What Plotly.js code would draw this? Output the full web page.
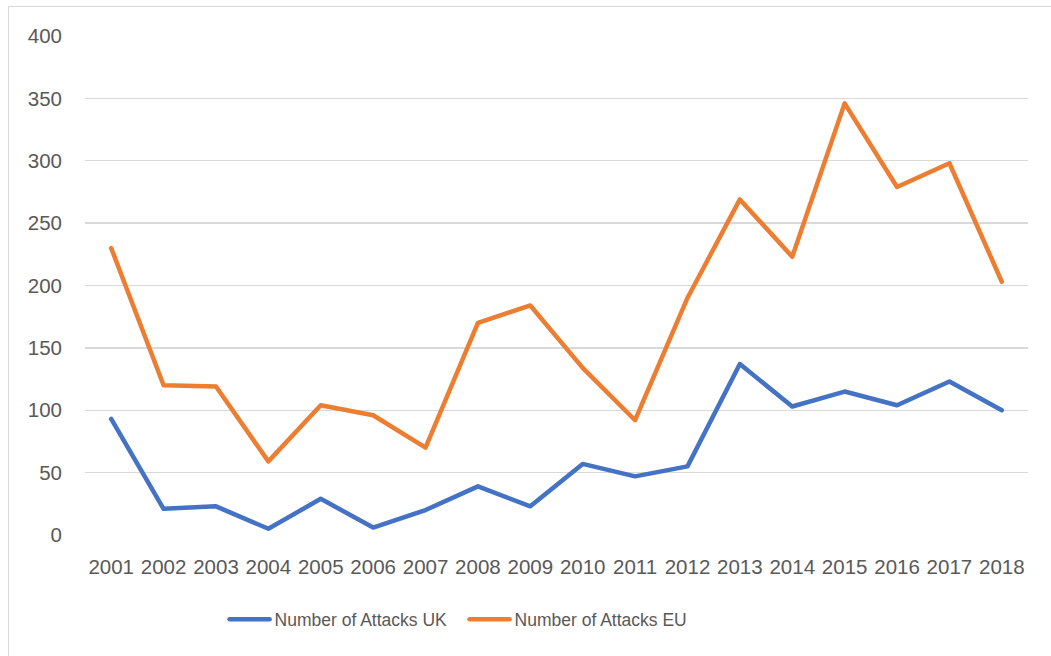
<!DOCTYPE html>
<html>
<head>
<meta charset="utf-8">
<script src="https://cdn.plot.ly/plotly-3.0.1.min.js"></script>
<style>
  html, body { margin: 0; padding: 0; background: #fff; overflow: hidden; }
  #wrap { position: relative; width: 1051px; height: 656px; }
  #chart { position: absolute; left: 0; top: 0; width: 1051px; height: 656px; }
  #frame { position: absolute; left: 8px; top: 6px; width: 1100px; height: 700px;
           border: 1px solid #d9d9d9; pointer-events: none; box-sizing: border-box; }
  #chart path.js-line { stroke-linecap: round; stroke-linejoin: round; }
</style>
</head>
<body>
<div id="wrap">
  <div id="chart"></div>
  <div id="frame"></div>
</div>
<script>
const years = ["2001","2002","2003","2004","2005","2006","2007","2008","2009","2010","2011","2012","2013","2014","2015","2016","2017","2018"];
const attacksUK = [93, 21, 23, 5, 29, 6, 20, 39, 23, 57, 47, 55, 137, 103, 115, 104, 123, 100];
const attacksEU = [230, 120, 119, 59, 104, 96, 70, 170, 184, 134, 92, 190, 269, 223, 346, 279, 298, 203];
const seriesNames = ["Number of Attacks UK", "Number of Attacks EU"];
const yTicks = [0, 50, 100, 150, 200, 250, 300, 350, 400];

const traces = [
  { x: years, y: attacksUK, name: seriesNames[0], type: "scatter", mode: "lines",
    line: { color: "#4472C4", width: 4.5, shape: "linear" } },
  { x: years, y: attacksEU, name: seriesNames[1], type: "scatter", mode: "lines",
    line: { color: "#ED7D31", width: 4.5, shape: "linear" } }
];

const layout = {
  width: 1051, height: 656,
  margin: { l: 85, r: 23, t: 35.5, b: 120.5, pad: 0 },
  paper_bgcolor: "rgba(0,0,0,0)", plot_bgcolor: "#fff",
  font: { family: "Liberation Sans, Arial, sans-serif", color: "#595959", size: 20 },
  showlegend: true,
  legend: { orientation: "h", x: 0.148, xanchor: "left", y: -0.169, yanchor: "middle",
            font: { size: 17.5, color: "#595959" }, itemwidth: 40, traceorder: "normal",
            entrywidth: 185, entrywidthmode: "pixels" },
  xaxis: { type: "category", range: [-0.5, 17.5], showgrid: false, zeroline: false, showline: false,
           ticks: "", ticklabelstandoff: 17, tickfont: { size: 20.5, color: "#595959" },
           fixedrange: true },
  yaxis: { range: [0, 400], tickvals: yTicks, showgrid: true, gridcolor: "#d9d9d9", gridwidth: 1.3,
           zeroline: false, showline: false, ticks: "", ticklabelstandoff: 22,
           tickfont: { size: 20.5, color: "#595959" }, fixedrange: true }
};

Plotly.newPlot("chart", traces, layout, { displayModeBar: false, staticPlot: true });
</script>
</body>
</html>
